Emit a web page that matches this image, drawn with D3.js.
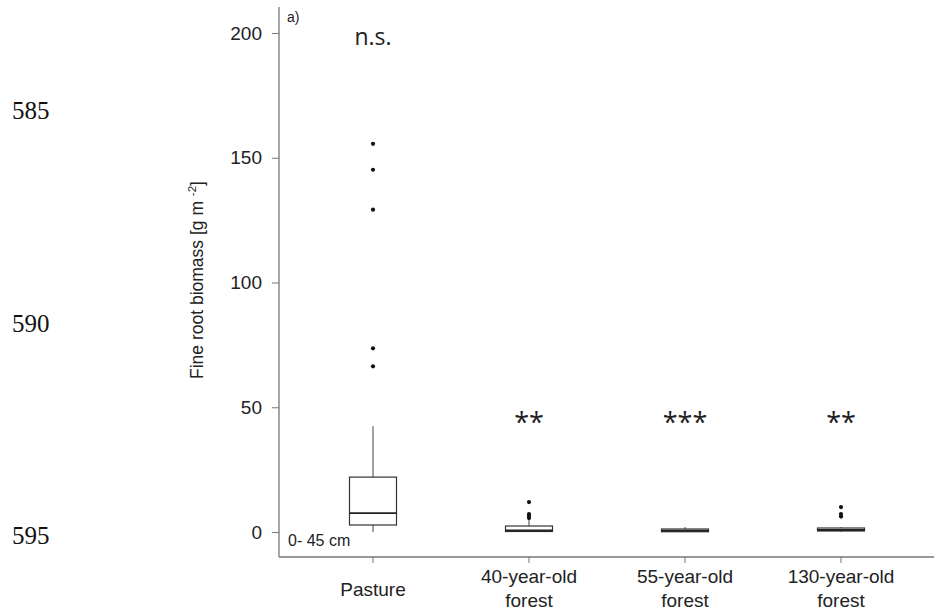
<!DOCTYPE html>
<html><head><meta charset="utf-8">
<script src="https://cdn.jsdelivr.net/npm/d3@7"></script>
<style>body{margin:0;background:#fff;} svg{display:block;}</style>
</head><body>
<svg id="c" width="934" height="614"></svg>
<script>
const categories = ["Pasture", "40-year-old\nforest", "55-year-old\nforest", "130-year-old\nforest"];
const lowerWhisker = [0, 0, 0, 0];
const q1 = [2.8, 0.2, 0.1, 0.4];
const median = [7.6, 0.6, 0.5, 0.8];
const q3 = [22, 2.4, 1.2, 1.6];
const upperWhisker = [42.4, 4.8, 2, 2];
const outliers = [[155.6, 145.2, 129.2, 73.6, 66.4], [12, 7.2, 6.4, 5.6], [], [10, 7.2, 6.2]];
const significance = ["n.s.", "**", "***", "**"];
const yTicks = [0, 50, 100, 150, 200];
const lineNumbers = [["585", 110], ["590", 323], ["595", 535]];

const svg = d3.select("#c");
const y = d3.scaleLinear().domain([0, 200]).range([532, 33]);
const x = d3.scaleBand().domain(categories).range([295, 919]).paddingInner(0);
const cx = d => x(d) + x.bandwidth() / 2;
const axisCol = "#777";
const boxW = 47;

// line numbers
svg.selectAll("text.ln").data(lineNumbers).join("text")
  .attr("x", 12).attr("y", d => d[1]).attr("dy", "0.35em")
  .attr("font-family", "'Liberation Serif', serif").attr("font-size", 25).attr("fill", "#111")
  .text(d => d[0]);

// axes lines
svg.append("line").attr("x1", 279).attr("x2", 279).attr("y1", 7).attr("y2", 557).attr("stroke", axisCol).attr("stroke-width", 1.3);
svg.append("line").attr("x1", 279).attr("x2", 934).attr("y1", 557).attr("y2", 557).attr("stroke", axisCol).attr("stroke-width", 1.3);

const yAxis = svg.append("g").attr("transform", "translate(279,0)")
  .call(d3.axisLeft(y).tickValues(yTicks).tickSize(7).tickPadding(10));
yAxis.select(".domain").remove();
yAxis.selectAll(".tick line").attr("stroke", axisCol);
yAxis.selectAll(".tick text").attr("font-family", "'Liberation Sans', Arial, sans-serif").attr("font-size", 19).attr("fill", "#222");

const xAxis = svg.append("g").attr("transform", "translate(0,557)")
  .call(d3.axisBottom(x).tickSize(6).tickFormat(""));
xAxis.select(".domain").remove();
xAxis.selectAll(".tick line").attr("stroke", axisCol);

// x labels
categories.forEach(c => {
  const lines = c.split("\n");
  const t = svg.append("text").attr("text-anchor", "middle")
    .attr("font-family", "'Liberation Sans', Arial, sans-serif").attr("font-size", 19).attr("fill", "#222");
  if (lines.length === 1) {
    t.append("tspan").attr("x", cx(c)).attr("y", 596).text(lines[0]);
  } else {
    lines.forEach((l, i) => t.append("tspan").attr("x", cx(c)).attr("y", 583 + i * 24).text(l));
  }
});

// y label
const yl = svg.append("text").attr("transform", "translate(203,280) rotate(-90)")
  .attr("text-anchor", "middle").attr("font-family", "'Liberation Sans', Arial, sans-serif")
  .attr("font-size", 17.5).attr("fill", "#222");
yl.append("tspan").text("Fine root biomass [g m ");
yl.append("tspan").attr("font-size", 11.5).attr("dy", -7).text("-2");
yl.append("tspan").attr("dy", 7).text("]");

// boxes
const g = svg.append("g");
categories.forEach((c, i) => {
  const X = cx(c);
  g.append("line").attr("x1", X).attr("x2", X).attr("y1", y(q3[i])).attr("y2", y(upperWhisker[i])).attr("stroke", "#444").attr("stroke-width", 1);
  g.append("line").attr("x1", X).attr("x2", X).attr("y1", y(q1[i])).attr("y2", y(lowerWhisker[i])).attr("stroke", "#444").attr("stroke-width", 1);
  g.append("rect").attr("x", X - boxW / 2).attr("width", boxW)
    .attr("y", y(q3[i])).attr("height", y(q1[i]) - y(q3[i]))
    .attr("fill", "#fff").attr("stroke", "#333").attr("stroke-width", 1.2);
  g.append("line").attr("x1", X - boxW / 2).attr("x2", X + boxW / 2).attr("y1", y(median[i])).attr("y2", y(median[i]))
    .attr("stroke", "#222").attr("stroke-width", 1.8);
  g.selectAll(null).data(outliers[i]).join("circle")
    .attr("cx", X).attr("cy", d => y(d)).attr("r", 2.1).attr("fill", "#111");
});

// significance labels
svg.selectAll("text.sig").data(categories).join("text")
  .attr("x", d => cx(d)).attr("y", (d, i) => i === 0 ? 45 : 432)
  .attr("text-anchor", "middle").attr("font-family", "'Open Sans', sans-serif")
  .attr("font-size", (d, i) => i === 0 ? 23 : 27).attr("fill", "#222")
  .attr("letter-spacing", 0)
  .text((d, i) => significance[i]);

// panel label and depth
svg.append("text").attr("x", 287).attr("y", 22).attr("font-family", "'Liberation Sans', Arial, sans-serif")
  .attr("font-size", 14).attr("fill", "#222").text("a)");
svg.append("text").attr("x", 288).attr("y", 546).attr("font-family", "'Liberation Sans', Arial, sans-serif")
  .attr("font-size", 16).attr("fill", "#222").text("0- 45 cm");
</script>
</body></html>
